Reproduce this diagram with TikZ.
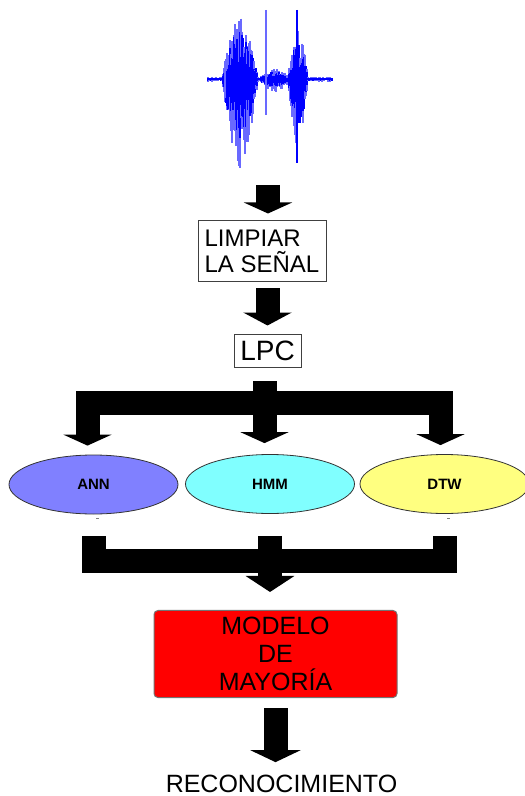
\documentclass[tikz,border=0pt]{standalone}
\usepackage{fontspec}
\setmainfont{Liberation Sans}
\usetikzlibrary{arrows.meta, positioning, shapes.geometric}

\definecolor{wavedark}{RGB}{0,0,255}
\definecolor{wavelight}{RGB}{105,105,255}
\definecolor{annblue}{RGB}{128,128,255}
\definecolor{hmmcyan}{RGB}{128,255,255}
\definecolor{dtwyellow}{RGB}{255,255,128}

\tikzset{
  stage/.style={draw=black!75, line width=0.5pt, inner ysep=0pt},
  classifier/.style={ellipse, draw=black!80, line width=0.4pt, inner sep=0pt,
    minimum width=84.5pt, minimum height=29.5pt, font=\fontsize{7.5}{8}\selectfont\bfseries},
  blockline/.style={line width=12pt, line join=miter},
  blockarrow/.style={blockline, -{Triangle[length=5.5pt, width=24pt]}},
}

\begin{document}
\begin{tikzpicture}[x=0.5pt, y=-0.5pt]
  \useasboundingbox (0,0) rectangle (524,796);

  % speech signal
  \pgfmathsetseed{11}
  \foreach \x in {208,...,332}{
    \pgfmathsetmacro\env{2 + 62*max(0,1-((\x-240)/18)^2) + 46*max(0,1-((\x-298)/10)^2) + 8*max(0,1-((\x-275)/15)^2)}
    \pgfmathsetmacro\up{\env*(0.4+0.6*rnd)}
    \pgfmathsetmacro\dn{\env*(0.6+0.8*rnd)}
    \pgfmathsetmacro\upc{\env*0.75*(0.35+0.65*rnd)}
    \pgfmathsetmacro\dnc{\env*0.95*(0.4+0.6*rnd)}
    \draw[wavelight, line width=0.7pt] (\x,79-\up) -- (\x,79+\dn);
    \draw[wavedark, line width=0.6pt] (\x,79-\upc) -- (\x,79+\dnc);
  }
  \draw[wavedark, line width=0.8pt] (208,79) -- (332,79);
  \draw[wavelight, line width=0.7pt] (225,61) -- (225,98);
  \draw[wavelight, line width=0.8pt] (266,10) -- (266,115);
  \draw[wavedark, line width=0.8pt] (297,10) -- (297,163);
  \coordinate (wave) at (268,185);

  % processing chain
  \node[stage, inner xsep=0pt, minimum width=64pt, minimum height=30.5pt, align=left,
    font=\fontsize{12}{13}\selectfont] (limpiar) at (262,251.5) {LIMPIAR\\LA SEÑAL};
  \node[stage, minimum width=33.5pt, minimum height=16.5pt, inner xsep=0pt,
    font=\fontsize{14}{14}\selectfont] (lpc) at (267.5,350.5) {LPC};

  \node[classifier, fill=annblue] (ann) at (93.5,484.5) {ANN};
  \node[classifier, fill=hmmcyan] (hmm) at (270,484) {HMM};
  \node[classifier, fill=dtwyellow] (dtw) at (444.5,484) {DTW};

  \node[draw=black!55, fill=red, rounded corners=2pt, line width=0.5pt,
    minimum width=121.5pt, minimum height=43pt, align=center,
    font=\fontsize{12.5}{14}\selectfont] (modelo) at (275.5,654) {MODELO\\DE\\MAYORÍA};
  \node[anchor=base, inner sep=0pt, font=\fontsize{12.5}{14}\selectfont] (reco) at (281.5,792) {RECONOCIMIENTO};

  % arrows
  \draw[blockarrow, shorten >=3.5pt] (wave) -- (wave |- limpiar.north);
  \draw[blockarrow, shorten <=3pt, shorten >=4pt,
    -{Triangle[length=6.5pt, width=24pt]}] (limpiar.south -| lpc.north) -- (lpc.north);

  % split towards the classifiers
  \coordinate (split) at (264.5,381);
  \draw[blockarrow, shorten >=4.5pt] (split) -- ++(0,22) -| ([xshift=-3pt]ann.north);
  \draw[blockarrow, shorten >=4.5pt] (split) -- ++(0,22) -| ([xshift=-2pt]dtw.north);
  \draw[blockarrow, shorten >=5.5pt] (split) -- (split |- hmm.north);

  % small marks under the ellipses
  \draw[black!50, line width=0.5pt] (96,518.5) -- (99,518.5);
  \draw[black!50, line width=0.5pt] (447,518.5) -- (450,518.5);

  % merge towards the voting model
  \coordinate (join) at (270,561);
  \draw[blockline, shorten <=11pt] (ann.south) |- (join);
  \draw[blockline, shorten <=11pt] (dtw.south) |- (join);
  \draw[blockarrow, shorten <=11pt, shorten >=9pt,
    -{Triangle[length=8pt, width=24pt]}] (hmm.south) -- (hmm.south |- modelo.north);

  \draw[blockarrow, shorten <=5pt, shorten >=6pt,
    -{Triangle[length=6pt, width=25pt]}] (modelo.south) -- (modelo.south |- reco.north);
\end{tikzpicture}
\end{document}
